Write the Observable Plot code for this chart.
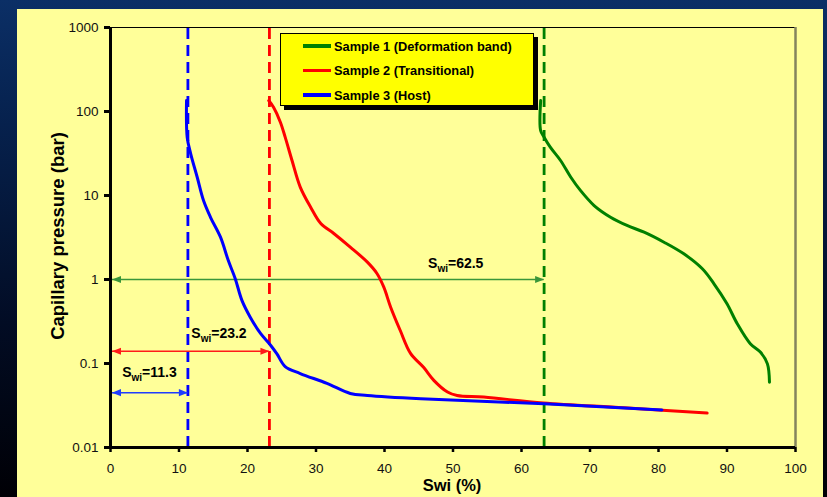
<!DOCTYPE html>
<html>
<head>
<meta charset="utf-8">
<script src="https://cdn.jsdelivr.net/npm/d3@7"></script>
<script src="https://cdn.jsdelivr.net/npm/@observablehq/plot@0.6"></script>
<style>
  html, body { margin: 0; padding: 0; }
  body {
    width: 827px; height: 497px; overflow: hidden; position: relative;
    background: linear-gradient(to bottom, #0b2f66 0%, #06214d 25%, #020c24 65%, #000005 100%);
    font-family: Arial, "Liberation Sans", sans-serif;
  }
  #panel { position: absolute; left: 17px; top: 9px; width: 806px; height: 488px; background: #ffff99; }
  #chart { position: absolute; left: 0; top: 0; }
  .ytitle { position: absolute; left: 58px; top: 236px; transform: translate(-50%, -50%) rotate(-90deg);
    font-weight: bold; font-size: 18.5px; white-space: nowrap; color: #000; }
  .xtitle { position: absolute; left: 452px; top: 485px; transform: translate(-50%, -50%);
    font-weight: bold; font-size: 16.5px; white-space: nowrap; color: #000; }
  #legend { position: absolute; left: 280px; top: 33px; width: 254px; height: 73px; background: #ffff00;
    border: 1.5px solid #000; box-shadow: 4px 4px 0 #000; box-sizing: border-box; }
  .lrow { position: absolute; left: 0; height: 16px; display: flex; align-items: center; }
  .lline { width: 28px; height: 3.5px; margin-left: 22px; margin-right: 3px; }
  .ltext { font-weight: bold; font-size: 12.8px; color: #000; white-space: nowrap; }
</style>
</head>
<body>
<div id="panel"></div>
<div id="chart"></div>
<div class="ytitle">Capillary pressure (bar)</div>
<div class="xtitle">Swi (%)</div>
<div id="legend"></div>
<script>
// ---- data ----
const seriesNames = ["Sample 1 (Deformation band)", "Sample 2 (Transitional)", "Sample 3 (Host)"];
const seriesColors = ["#008000", "#ff0000", "#0000ff"];

const sample1X = [62.8, 62.8, 63.3, 64.2, 65.7, 67.2, 68.6, 70.6, 73.0, 75.4, 77.9, 80.8, 83.7, 86.4, 88.1, 90.0, 91.5, 93.4, 94.9, 95.9, 96.2];
const sample1Y = [135, 59, 49.5, 37.6, 26.1, 16.5, 11.5, 7.6, 5.52, 4.40, 3.66, 2.78, 2.02, 1.34, 0.889, 0.514, 0.297, 0.172, 0.136, 0.099, 0.060];

const sample2X = [23.1, 23.8, 24.8, 25.5, 26.5, 27.7, 29.2, 30.7, 32.6, 35.0, 37.5, 38.9, 39.9, 40.9, 42.3, 43.8, 45.7, 47.2, 49.2, 50.6, 54.5, 63.2, 75.0, 87.1];
const sample2Y = [135, 112, 74.6, 49.5, 26.1, 12.6, 7.3, 4.64, 3.53, 2.43, 1.61, 1.18, 0.81, 0.468, 0.247, 0.132, 0.090, 0.063, 0.0457, 0.0416, 0.0398, 0.0339, 0.0297, 0.0257];

const sample3X = [11.1, 11.2, 11.7, 12.66, 13.58, 14.6, 16.06, 17.2, 18.2, 19.2, 20.4, 21.9, 23.4, 24.3, 25.5, 27.7, 31.6, 35.0, 37.5, 45.3, 63.3, 80.5];
const sample3Y = [135, 49, 31.6, 16.5, 8.7, 5.5, 3.19, 1.68, 1.03, 0.56, 0.356, 0.228, 0.164, 0.13, 0.092, 0.076, 0.058, 0.044, 0.0416, 0.038, 0.0331, 0.028];

// Swi markers (vertical dashed lines) and arrows
const swiValues = ["11.3", "23.2", "62.5"];
const swiLineX = [11.3, 23.2, 63.3];
const swiArrowY = [0.045, 0.14, 1.0];
const swiArrowColors = ["#1f3cff", "#ff1a1a", "#3a963a"];
const swiLineColors = ["#0000ff", "#ff0000", "#008000"];
const swiLabelX = [1.7, 11.8, 50.4];
const swiLabelY = [0.078, 0.228, 1.55];
const swiLabelAnchor = ["start", "start", "middle"];

const xTicks = [0, 10, 20, 30, 40, 50, 60, 70, 80, 90, 100];
const xTickLabels = ["0", "10", "20", "30", "40", "50", "60", "70", "80", "90", "100"];
const yTicks = [0.01, 0.1, 1, 10, 100, 1000];
const yTickLabels = ["0.01", "0.1", "1", "10", "100", "1000"];

// ---- tables ----
const curves = [];
[[sample1X, sample1Y], [sample2X, sample2Y], [sample3X, sample3Y]].forEach(([xs, ys], k) => {
  xs.forEach((x, i) => curves.push({series: seriesNames[k], x, y: ys[i]}));
});
const swi = swiValues.map((v, i) => ({
  label: "Swi=" + v, lineX: swiLineX[i], arrowY: swiArrowY[i],
  color: swiArrowColors[i], lineColor: swiLineColors[i],
  lx: swiLabelX[i], ly: swiLabelY[i], anchor: swiLabelAnchor[i]
}));

const headLeft = { draw(ctx) { ctx.moveTo(0, 0); ctx.lineTo(9, -3.6); ctx.lineTo(9, 3.6); ctx.closePath(); } };
const headRight = { draw(ctx) { ctx.moveTo(0, 0); ctx.lineTo(-9, -3.6); ctx.lineTo(-9, 3.6); ctx.closePath(); } };

const plot = Plot.plot({
  width: 827, height: 497,
  marginLeft: 110, marginRight: 32, marginTop: 27, marginBottom: 50,
  style: { background: "transparent", fontFamily: "Arial, 'Liberation Sans', sans-serif", color: "#000" },
  x: { domain: [0, 100] },
  y: { type: "log", domain: [0.01, 1000] },
  color: { domain: seriesNames, range: seriesColors },
  marks: [
    // frame
    Plot.ruleY([1000], { stroke: "#000", strokeWidth: 1 }),
    Plot.ruleX([100], { stroke: "#85855e", strokeWidth: 2.5 }),
    // dashed Swi lines
    Plot.ruleX(swi, { x: "lineX", y1: 0.01, y2: 1000, stroke: "lineColor", strokeWidth: 2.8, strokeDasharray: "11,6" }),
    // arrows
    Plot.ruleY(swi, { y: "arrowY", x1: 0, x2: "lineX", stroke: "color", strokeWidth: 1.5 }),
    Plot.dot(swi, { x: () => 0, y: "arrowY", symbol: headLeft, fill: "color", stroke: "none", dx: 1.5 }),
    Plot.dot(swi, { x: "lineX", y: "arrowY", symbol: headRight, fill: "color", stroke: "none" }),
    // curves
    Plot.line(curves, { x: "x", y: "y", z: "series", stroke: "series", strokeWidth: 3, strokeLinejoin: "round", curve: "catmull-rom" }),
    // labels
    Plot.text(swi.filter(d => d.anchor === "start"), { x: "lx", y: "ly", text: "label", textAnchor: "start", fontSize: 14, fontWeight: "bold", fill: "#000" }),
    Plot.text(swi.filter(d => d.anchor === "middle"), { x: "lx", y: "ly", text: "label", textAnchor: "middle", fontSize: 14, fontWeight: "bold", fill: "#000" }),
    // axes
    Plot.axisY(yTicks, { tickSize: 6, tickPadding: 6, fontSize: 13.5, strokeWidth: 3, stroke: "#000", fill: "#111",
      tickFormat: d => yTickLabels[yTicks.indexOf(d)], label: null }),
    Plot.axisX(xTicks, { tickSize: 5, tickPadding: 11, fontSize: 13.5, strokeWidth: 2.5, stroke: "#000", fill: "#111",
      tickFormat: d => xTickLabels[xTicks.indexOf(d)], label: null }),
    Plot.ruleX([0], { stroke: "#000", strokeWidth: 3 }),
    Plot.ruleY([0.01], { stroke: "#000", strokeWidth: 3 })
  ]
});

// subscripts for S_wi labels
plot.querySelectorAll("text").forEach(t => {
  const s = t.textContent;
  if (s.startsWith("Swi=")) {
    t.textContent = "";
    const ns = "http://www.w3.org/2000/svg";
    const a = document.createElementNS(ns, "tspan"); a.textContent = "S";
    const b = document.createElementNS(ns, "tspan"); b.textContent = "wi";
    b.setAttribute("font-size", "10"); b.setAttribute("dy", "4");
    const c = document.createElementNS(ns, "tspan"); c.textContent = s.slice(3);
    c.setAttribute("dy", "-4");
    t.append(a, b, c);
  }
});
document.getElementById("chart").appendChild(plot);

// legend
const leg = document.getElementById("legend");
const rowTops = [4, 28.5, 53];
seriesNames.forEach((n, i) => {
  const row = document.createElement("div");
  row.className = "lrow"; row.style.top = rowTops[i] + "px";
  row.innerHTML = `<div class="lline" style="background:${seriesColors[i]}"></div><div class="ltext">${n}</div>`;
  leg.appendChild(row);
});
</script>
</body>
</html>
